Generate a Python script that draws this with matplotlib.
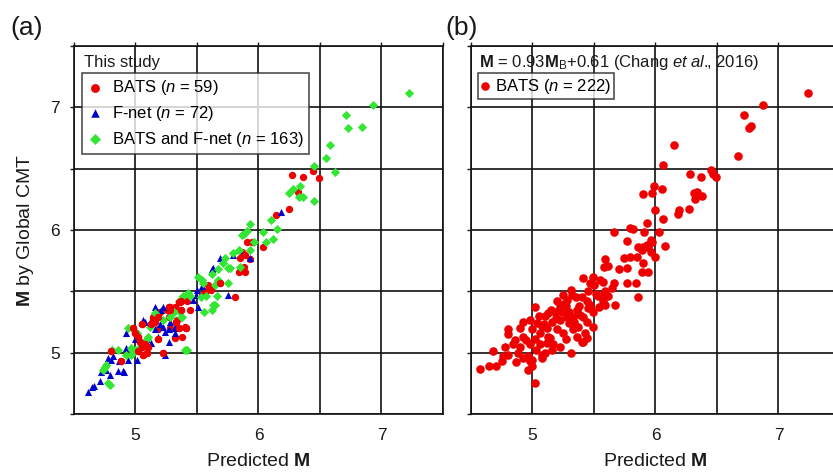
"""
Predicted vs Global CMT magnitude: (a) this study, (b) Chang et al. (2016).
"""

import matplotlib

matplotlib.use("Agg")
import matplotlib.pyplot as plt
import numpy as np

plt.rcParams["font.family"] = ["Liberation Sans", "DejaVu Sans"]
plt.rcParams["mathtext.fontset"] = "custom"
plt.rcParams["mathtext.rm"] = "Liberation Sans"
plt.rcParams["mathtext.it"] = "Liberation Sans:italic"
plt.rcParams["mathtext.bf"] = "Liberation Sans:bold"

# ---- panel (a): this study ----
bats_x = [6.27, 6.36, 6.44, 6.49, 6.32, 6.25, 6.14, 5.91, 6.04, 5.95, 5.87, 5.89, 5.93, 5.85,
          5.84, 5.89, 5.88, 5.59, 5.61, 5.57, 5.54, 5.81, 5.39, 5.42, 5.44, 5.36, 5.32, 5.28,
          5.26, 5.20, 5.27, 5.34, 5.14, 5.16, 5.18, 5.28, 5.40, 5.38, 5.32, 4.80, 4.88, 4.98,
          5.00, 5.02, 5.04, 5.05, 5.08, 5.10, 5.13, 5.14, 5.18, 5.27, 5.28, 5.35, 5.37, 5.33,
          5.18, 5.22, 5.35, 5.41, 5.37, 5.02, 5.06, 5.05, 5.09, 5.69]
bats_y = [6.45, 6.43, 6.48, 6.42, 6.31, 6.17, 6.12, 5.90, 5.86, 5.90, 5.82, 5.80, 5.76, 5.77,
          5.66, 5.66, 5.70, 5.55, 5.51, 5.50, 5.47, 5.45, 5.45, 5.42, 5.35, 5.41, 5.37, 5.37,
          5.35, 5.33, 5.29, 5.27, 5.29, 5.25, 5.19, 5.20, 5.21, 5.13, 5.12, 5.01, 4.93, 5.20,
          5.16, 5.13, 5.09, 5.05, 5.07, 5.05, 5.23, 5.27, 5.29, 5.37, 5.35, 5.41, 5.42, 5.25,
          5.11, 5.00, 5.20, 5.20, 5.35, 5.01, 4.98, 5.23, 5.00, 5.57]

fnet_x = [4.61, 4.65, 4.71, 4.72, 4.76, 4.79, 4.78, 4.80, 4.86, 4.90, 4.87, 4.94, 4.92, 4.92,
          5.08, 5.09, 5.16, 5.20, 5.22, 5.27, 5.21, 5.32, 5.32, 5.24, 5.13, 5.18, 5.69, 5.62,
          5.65, 5.75, 5.93, 5.54, 5.49, 5.47, 5.27, 5.22, 5.16, 5.28, 5.32, 6.18, 5.50, 5.63,
          5.79, 5.84, 5.51, 5.24, 5.00, 5.06, 4.66, 4.91, 4.82, 5.01]
fnet_y = [4.68, 4.72, 4.77, 4.84, 4.86, 4.82, 4.96, 4.94, 4.85, 4.85, 4.93, 4.94, 5.04, 5.16,
          5.25, 5.11, 5.19, 5.23, 5.37, 5.09, 5.35, 5.16, 5.20, 5.17, 5.08, 5.13, 5.77, 5.68,
          5.57, 5.47, 5.77, 5.54, 5.47, 5.43, 5.19, 5.21, 5.37, 5.25, 5.21, 6.15, 5.51, 5.69,
          5.80, 5.84, 5.37, 4.98, 5.11, 5.27, 4.73, 4.84, 4.97, 4.94]

both_x = [7.22, 6.93, 6.71, 6.73, 6.84, 6.58, 6.55, 6.45, 6.62, 6.34, 6.28, 6.25, 6.33, 6.36,
          6.45, 6.10, 6.15, 5.93, 5.88, 6.04, 6.12, 5.96, 6.06, 5.87, 5.91, 5.84, 5.93, 5.79,
          5.73, 5.71, 5.85, 5.75, 5.77, 5.67, 5.62, 5.51, 5.54, 5.55, 5.67, 5.75, 5.65, 5.43,
          5.44, 5.53, 5.66, 5.65, 5.62, 5.57, 5.39, 5.35, 5.36, 5.28, 5.22, 4.86, 4.92, 4.96,
          4.96, 5.00, 4.76, 4.74, 4.79, 5.10, 5.12, 5.16, 5.31, 4.94, 5.40, 5.37, 4.78, 4.75,
          4.81, 4.97, 5.04, 5.01, 5.09, 5.42, 5.56, 5.63, 5.38]
both_y = [7.12, 7.02, 6.94, 6.83, 6.84, 6.69, 6.59, 6.52, 6.47, 6.36, 6.33, 6.30, 6.27, 6.27,
          6.24, 6.08, 6.01, 6.05, 5.97, 5.98, 5.93, 5.90, 5.90, 5.96, 5.99, 5.84, 5.84, 5.81,
          5.77, 5.73, 5.70, 5.69, 5.69, 5.68, 5.64, 5.62, 5.59, 5.57, 5.59, 5.57, 5.55, 5.49,
          5.46, 5.45, 5.46, 5.39, 5.35, 5.46, 5.46, 5.42, 5.33, 5.29, 5.27, 5.02, 4.98, 5.04,
          4.98, 5.02, 4.90, 4.86, 4.74, 5.13, 5.21, 5.32, 5.33, 5.20, 5.02, 5.29, 4.75, 4.88,
          5.02, 5.02, 5.05, 5.16, 5.11, 5.02, 5.33, 5.39, 5.29]

# ---- panel (b): BATS with Chang et al. (2016) relation ----
chang_x = [7.24, 6.87, 6.72, 6.76, 6.78, 6.15, 6.67, 6.06, 6.28, 6.37, 6.45, 6.47, 6.49, 5.99,
           5.90, 5.97, 6.05, 6.31, 6.34, 6.38, 6.32, 6.00, 6.19, 6.18, 6.27, 6.06, 5.93, 5.66,
           5.79, 5.82, 5.91, 6.03, 5.77, 5.96, 5.97, 5.94, 6.08, 5.86, 5.90, 5.93, 5.89, 5.96,
           6.00, 5.74, 5.79, 5.85, 5.59, 5.58, 5.61, 5.70, 5.77, 5.90, 5.89, 5.94, 5.41, 5.49,
           5.55, 5.57, 5.47, 5.66, 5.65, 5.59, 5.57, 5.61, 5.77, 5.84, 5.86, 5.67, 5.25, 5.32,
           5.28, 5.40, 5.44, 5.47, 5.53, 5.57, 5.59, 5.54, 5.49, 5.02, 5.22, 5.18, 5.36, 5.39,
           5.33, 5.41, 5.44, 5.49, 4.92, 4.98, 5.04, 5.09, 5.16, 5.22, 5.28, 4.80, 4.80, 4.90,
           4.92, 5.00, 5.06, 5.13, 5.20, 5.25, 5.33, 5.37, 5.43, 5.36, 5.40, 5.44, 4.78, 4.84,
           4.90, 4.98, 5.02, 5.06, 5.12, 5.17, 5.22, 5.16, 5.27, 5.31, 5.41, 4.68, 4.65, 4.70,
           4.75, 4.76, 4.80, 4.87, 4.92, 4.96, 4.98, 4.96, 5.00, 5.00, 5.08, 5.08, 5.02, 4.57,
           5.10, 5.15, 5.26, 5.30, 5.35, 5.45, 5.50, 5.38, 5.12, 5.05, 5.20, 5.31, 5.45, 5.52,
           4.95, 5.10, 5.24, 5.30, 4.86, 5.03, 5.14, 5.08, 5.19, 5.34, 5.27, 4.88, 5.13, 5.23]
chang_y = [7.12, 7.02, 6.94, 6.83, 6.85, 6.69, 6.60, 6.53, 6.46, 6.43, 6.49, 6.46, 6.43, 6.36,
           6.29, 6.30, 6.33, 6.30, 6.31, 6.28, 6.25, 6.16, 6.16, 6.13, 6.17, 6.09, 6.06, 5.98,
           6.02, 6.01, 5.98, 5.98, 5.91, 5.92, 5.90, 5.86, 5.87, 5.86, 5.86, 5.88, 5.84, 5.82,
           5.78, 5.77, 5.78, 5.78, 5.76, 5.70, 5.71, 5.68, 5.69, 5.73, 5.66, 5.66, 5.61, 5.62,
           5.59, 5.58, 5.57, 5.57, 5.53, 5.50, 5.47, 5.46, 5.57, 5.57, 5.45, 5.39, 5.47, 5.47,
           5.43, 5.45, 5.42, 5.39, 5.46, 5.42, 5.39, 5.37, 5.33, 5.37, 5.37, 5.33, 5.35, 5.31,
           5.29, 5.29, 5.25, 5.21, 5.25, 5.27, 5.24, 5.23, 5.25, 5.27, 5.29, 5.19, 5.15, 5.20,
           5.13, 5.19, 5.16, 5.13, 5.19, 5.16, 5.19, 5.21, 5.16, 5.13, 5.09, 5.12, 5.05, 5.07,
           5.05, 5.07, 5.11, 5.07, 5.08, 5.07, 5.05, 5.02, 5.11, 5.00, 5.09, 5.01, 4.89, 4.89,
           4.93, 4.97, 4.98, 4.92, 4.96, 4.97, 4.93, 4.86, 4.89, 4.94, 4.96, 4.98, 4.75, 4.87,
           5.30, 5.35, 5.40, 5.33, 5.45, 5.50, 5.55, 5.38, 5.20, 5.30, 5.42, 5.51, 5.36, 5.48,
           5.10, 5.00, 5.33, 5.24, 5.10, 5.02, 5.12, 5.22, 5.28, 5.25, 5.38, 5.00, 5.32, 5.34]

TICKS = np.arange(4.5, 7.51, 0.5)
RED = "#ee0000"
BLUE = "#0000cc"
GREEN = "#33e633"
TEXT = "#1a1a1a"


def style_axes(ax, show_ylabels: bool) -> None:
    ax.set_xlim(4.5, 7.5)
    ax.set_ylim(4.5, 7.5)
    ax.set_xticks(TICKS)
    ax.set_yticks(TICKS)
    ax.set_xticklabels([f"{t:g}" if t in (5, 6, 7) else "" for t in TICKS])
    ax.set_yticklabels([f"{t:g}" if t in (5, 6, 7) and show_ylabels else "" for t in TICKS])
    ax.tick_params(axis="x", bottom=False, top=True, labelbottom=True, labeltop=False,
                   direction="out", length=3, width=1.0, pad=7, labelsize=12.5, colors=TEXT)
    ax.tick_params(axis="y", left=True, direction="out", length=3, width=1.0, pad=7,
                   labelsize=12.5, colors=TEXT)
    ax.grid(True, color="#111111", linewidth=1.2)
    ax.set_axisbelow(True)
    for sp in ax.spines.values():
        sp.set_linewidth(1.2)
        sp.set_color("#111111")
    ax.set_xlabel(r"Predicted $\mathbf{M}$", fontsize=14, color=TEXT, labelpad=7)


def main() -> int:
    fig = plt.figure(figsize=(8.33, 4.72), dpi=100)
    ax_a = fig.add_axes([0.0888, 0.1229, 0.443, 0.7797])
    ax_b = fig.add_axes([0.5654, 0.1229, 0.443, 0.7797])

    style_axes(ax_a, True)
    style_axes(ax_b, False)

    h_bats = ax_a.scatter(bats_x, bats_y, s=28, marker="o", color=RED, lw=0, zorder=3)
    h_fnet = ax_a.scatter(fnet_x, fnet_y, s=26, marker="^", color=BLUE, lw=0, zorder=3)
    h_both = ax_a.scatter(both_x, both_y, s=22, marker="D", color=GREEN, lw=0, zorder=3)
    # redraw bats on top of the dense cluster
    ax_a.scatter(bats_x[39:], bats_y[39:], s=28, marker="o", color=RED, lw=0, zorder=4)

    ax_a.set_ylabel(r"$\mathbf{M}$ by Global CMT", fontsize=14, color=TEXT, labelpad=10)

    ax_a.text(0.027, 0.955, "This study", transform=ax_a.transAxes, fontsize=12,
              va="center", ha="left", color=TEXT)
    leg = ax_a.legend(
        [h_bats, h_fnet, h_both],
        [r"BATS ($n$ = 59)", r"F-net ($n$ = 72)", r"BATS and F-net ($n$ = 163)"],
        loc="upper left", bbox_to_anchor=(0.022, 0.926), borderaxespad=0,
        fontsize=12, frameon=True, fancybox=False, edgecolor="#222222",
        borderpad=0.3, labelspacing=0.4, handlelength=0.9, handletextpad=0.6,
        scatterpoints=1, markerscale=1.2,
    )
    leg.get_frame().set_linewidth(1.2)
    leg.set_zorder(5)

    h_chang = ax_b.scatter(chang_x, chang_y, s=38, marker="o", color=RED, lw=0, zorder=3)
    ax_b.text(0.022, 0.955,
              r"$\mathbf{M}$ = 0.93$\mathbf{M}_{\mathrm{B}}$+0.61 (Chang $\mathit{et\ al.}\!\!$, 2016)",
              transform=ax_b.transAxes, fontsize=12, va="center", ha="left", color=TEXT)
    leg_b = ax_b.legend(
        [h_chang], [r"BATS ($n$ = 222)"],
        loc="upper left", bbox_to_anchor=(0.019, 0.926), borderaxespad=0,
        fontsize=12, frameon=True, fancybox=False, edgecolor="#222222",
        borderpad=0.2, handlelength=0.4, handletextpad=0.4, scatterpoints=1,
    )
    leg_b.get_frame().set_linewidth(1.2)
    leg_b.set_zorder(5)

    fig.text(0.012, 0.94, "(a)", fontsize=19, va="center", ha="left", color=TEXT)
    fig.text(0.535, 0.94, "(b)", fontsize=19, va="center", ha="left", color=TEXT)

    fig.savefig("out.png", dpi=100)
    plt.close(fig)
    return 0


if __name__ == "__main__":
    raise SystemExit(main())
